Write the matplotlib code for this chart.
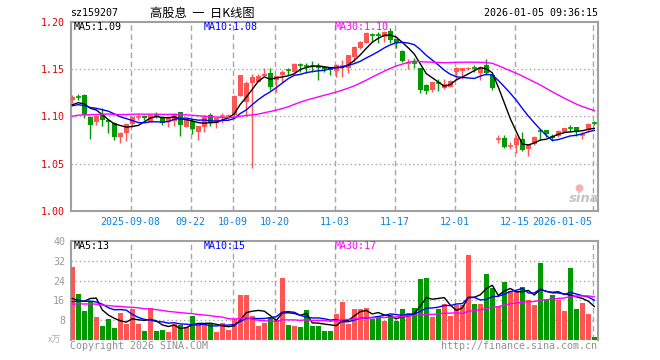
import numpy as np
import pandas as pd
import matplotlib
matplotlib.use('Agg')
import matplotlib.pyplot as plt

code = 'sz159207'
title = '高股息  一  日K线图'
stamp = '2026-01-05 09:36:15'

# daily candles, 2025-08-25 .. 2026-01-05 (88 sessions)
opens = [1.1172, 1.1205, 1.1224, 1.0996, 1.0936, 1.1017, 1.0960, 1.0932, 1.0778, 1.0826,
         1.0918, 1.0988, 1.1003, 1.0943, 1.1009, 1.0996, 1.0943, 1.0950, 1.1045, 1.0890,
         1.0950, 1.0837, 1.0890, 1.1013, 1.0932, 1.0994, 1.0998, 1.1013, 1.1217, 1.1147,
         1.1354, 1.1365, 1.1424, 1.1453, 1.1380, 1.1435, 1.1490, 1.1465, 1.1543, 1.1536,
         1.1537, 1.1534, 1.1515, 1.1513, 1.1480, 1.1530, 1.1510, 1.1628, 1.1717, 1.1775,
         1.1860, 1.1860, 1.1835, 1.1895, 1.1812, 1.1689, 1.1563, 1.1569, 1.1506, 1.1330,
         1.1277, 1.1350, 1.1295, 1.1312, 1.1470, 1.1477, 1.1495, 1.1515, 1.1460, 1.1540,
         1.1435, 1.0755, 1.0767, 1.0684, 1.0697, 1.0757, 1.0650, 1.0704, 1.0846, 1.0855,
         1.0795, 1.0790, 1.0837, 1.0885, 1.0883, 1.0798, 1.0855, 1.0928]
highs = [1.1220, 1.1235, 1.1235, 1.0998, 1.1010, 1.1084, 1.0965, 1.0937, 1.0830, 1.0926,
         1.1000, 1.1027, 1.1010, 1.1027, 1.1042, 1.1003, 1.0996, 1.1035, 1.1048, 1.0975,
         1.0958, 1.0900, 1.1013, 1.1038, 1.0985, 1.1038, 1.1027, 1.1220, 1.1440, 1.1370,
         1.1445, 1.1445, 1.1506, 1.1506, 1.1430, 1.1490, 1.1506, 1.1558, 1.1560, 1.1559,
         1.1583, 1.1565, 1.1535, 1.1520, 1.1548, 1.1594, 1.1650, 1.1740, 1.1792, 1.1890,
         1.1880, 1.1892, 1.1895, 1.1930, 1.1815, 1.1700, 1.1600, 1.1610, 1.1510, 1.1340,
         1.1365, 1.1390, 1.1390, 1.1380, 1.1515, 1.1512, 1.1520, 1.1540, 1.1530, 1.1600,
         1.1440, 1.0800, 1.0800, 1.0730, 1.0800, 1.0837, 1.0712, 1.0790, 1.0855, 1.0860,
         1.0810, 1.0850, 1.0878, 1.0905, 1.0888, 1.0830, 1.0925, 1.0945]
lows = [1.1137, 1.1172, 1.0985, 1.0757, 1.0908, 1.0900, 1.0826, 1.0750, 1.0721, 1.0734,
        1.0887, 1.0965, 1.0965, 1.0937, 1.0978, 1.0903, 1.0884, 1.0897, 1.0792, 1.0885,
        1.0810, 1.0750, 1.0837, 1.0897, 1.0875, 1.0932, 1.0975, 1.1005, 1.1210, 1.1000,
        1.0457, 1.1360, 1.1420, 1.1277, 1.1260, 1.1365, 1.1435, 1.1460, 1.1470, 1.1453,
        1.1470, 1.1383, 1.1465, 1.1435, 1.1410, 1.1411, 1.1453, 1.1576, 1.1710, 1.1770,
        1.1787, 1.1770, 1.1780, 1.1775, 1.1720, 1.1576, 1.1500, 1.1506, 1.1245, 1.1230,
        1.1255, 1.1270, 1.1290, 1.1305, 1.1390, 1.1390, 1.1490, 1.1470, 1.1383, 1.1440,
        1.1277, 1.0715, 1.0665, 1.0650, 1.0610, 1.0630, 1.0580, 1.0700, 1.0745, 1.0783,
        1.0740, 1.0785, 1.0832, 1.0830, 1.0790, 1.0755, 1.0830, 1.0905]
closes = [1.1206, 1.1200, 1.1008, 1.0908, 1.1006, 1.0960, 1.0937, 1.0784, 1.0826, 1.0918,
          1.0996, 1.0992, 1.0979, 1.1017, 1.1005, 1.0932, 1.0990, 1.1024, 1.0908, 1.0968,
          1.0865, 1.0897, 1.0996, 1.0936, 1.0979, 1.0998, 1.1002, 1.1214, 1.1435, 1.1354,
          1.1418, 1.1424, 1.1445, 1.1312, 1.1424, 1.1470, 1.1486, 1.1548, 1.1539, 1.1532,
          1.1533, 1.1506, 1.1500, 1.1490, 1.1540, 1.1534, 1.1646, 1.1734, 1.1787, 1.1882,
          1.1856, 1.1856, 1.1892, 1.1800, 1.1770, 1.1580, 1.1567, 1.1565, 1.1277, 1.1262,
          1.1358, 1.1346, 1.1337, 1.1372, 1.1506, 1.1506, 1.1513, 1.1511, 1.1523, 1.1453,
          1.1295, 1.0759, 1.0679, 1.0688, 1.0767, 1.0644, 1.0707, 1.0784, 1.0842, 1.0810,
          1.0770, 1.0844, 1.0872, 1.0881, 1.0837, 1.0802, 1.0918, 1.0924]
volumes = [29.5, 18.5, 11.7, 15.7, 9.3, 5.7, 8.5, 4.9, 10.9, 6.5,
           12.4, 6.5, 3.7, 12.9, 3.7, 4.1, 3.3, 6.5, 6.1, 5.5,
           9.7, 6.1, 6.5, 6.5, 3.3, 6.9, 4.1, 8.4, 18.1, 18.1,
           9.7, 5.7, 6.9, 9.3, 8.1, 24.9, 6.1, 5.7, 5.3, 12.1,
           5.7, 5.7, 3.7, 3.9, 10.5, 15.5, 6.5, 12.5, 12.5, 12.9,
           8.5, 9.3, 7.7, 10.1, 7.7, 12.5, 10.9, 12.9, 24.5, 24.9,
           9.3, 12.5, 14.5, 9.7, 14.1, 14.1, 34.1, 14.5, 14.5, 26.5,
           20.9, 13.7, 23.3, 19.7, 19.7, 21.3, 16.1, 14.1, 30.9, 16.1,
           18.1, 16.1, 11.7, 28.9, 12.5, 14.9, 10.5, 1.3]

# sessions before the window (not drawn, only feed the moving averages; estimated)
prior_close = [1.086, 1.090, 1.088, 1.092, 1.087, 1.089, 1.091, 1.088, 1.090, 1.089,
               1.097, 1.101, 1.099, 1.102, 1.100, 1.098, 1.101, 1.103, 1.099, 1.100,
               1.108, 1.112, 1.110, 1.109, 1.111, 1.109, 1.107, 1.114, 1.110]
prior_vol = [12.5, 15.0, 14.2, 13.0, 16.1, 14.8, 12.2, 13.5, 15.3, 14.0,
             13.1, 14.6, 15.2, 12.8, 13.9, 14.4, 13.3, 14.1, 12.7, 14.9,
             15.8, 13.2, 14.6, 12.9, 14.5, 22.5, 13.2, 10.2, 8.6]

tick_pos = [10, 20, 27, 34, 44, 54, 64, 74, 87]
tick_labels = ['2025-09-08', '09-22', '10-09', '10-20', '11-03', '11-17', '12-01', '12-15', '2026-01-05']
price_ticks = [1.00, 1.05, 1.10, 1.15, 1.20]
vol_ticks = [8, 16, 24, 32, 40]
ma_labels = ['MA5:1.09', 'MA10:1.08', 'MA30:1.10']
vol_ma_labels = ['MA5:13', 'MA10:15', 'MA30:17']

RED = '#ff5555'
GREEN = '#009a00'
MA_COLORS = ['black', '#0000ff', '#ff00ff']
GRID = '#a8a8a8'
MONO = 'DejaVu Sans Mono'

W, H = 660, 360
fig = plt.figure(figsize=(W / 100, H / 100), dpi=100)


def fx(x):
    return x / W


def fy(y):
    return 1 - y / H


ax = fig.add_axes([fx(70.7), fy(211), fx(597.7) - fx(70.7), fy(21.5) - fy(211)])
axv = fig.add_axes([fx(70.7), fy(340.3), fx(597.7) - fx(70.7), fy(240.7) - fy(340.3)])

n = len(closes)
x = np.arange(n)
o = np.array(opens)
c = np.array(closes)
h = np.array(highs)
l = np.array(lows)
up = c >= o
cols = np.where(up, RED, GREEN)

# candles
ax.vlines(x, l, h, colors=cols, lw=1, zorder=3)
body = np.abs(c - o)
thin = body < 0.001
ax.bar(x[~thin], body[~thin], bottom=np.minimum(o, c)[~thin], width=0.8,
       color=cols[~thin], lw=0, zorder=4)
ax.hlines(c[thin], x[thin] - 0.4, x[thin] + 0.4, colors=cols[thin], lw=1.2, zorder=4)

# moving averages
c_all = pd.Series(prior_close + closes)
v_all = pd.Series(prior_vol + volumes)
k = len(prior_close)
for win, col in zip([5, 10, 30], MA_COLORS):
    ax.plot(x, c_all.rolling(win).mean().values[k:], color=col, lw=1, zorder=5)
    axv.plot(x, v_all.rolling(win).mean().values[k:], color=col, lw=1, zorder=5)

axv.bar(x, volumes, width=0.8, color=cols, lw=0, zorder=3)

ax.set_xlim(-0.27, 87.57)
axv.set_xlim(-0.27, 87.57)
ax.set_ylim(1.00, 1.20)
axv.set_ylim(0, 40)

gx = np.array(tick_pos) - 0.27
for a in (ax, axv):
    for g in gx:
        a.axvline(g, color=GRID, lw=1, ls=(0, (4, 2.5)), zorder=1)
    for s in ['left', 'right', 'top', 'bottom']:
        a.spines[s].set_color('#a0a0a0')
        a.spines[s].set_linewidth(1.5)
axv.spines['bottom'].set_visible(False)

for p in price_ticks[1:-1]:
    ax.axhline(p, color=GRID, lw=1, ls=(0, (1, 2)), zorder=1)
for v in vol_ticks[:-1]:
    axv.axhline(v, color=GRID, lw=1, ls=(0, (1, 2)), zorder=1)

ax.set_yticks(price_ticks)
ax.set_yticklabels(['%.2f' % p for p in price_ticks], color='#e00000', family=MONO, fontsize=7.2)
ax.set_xticks(gx)
ax.set_xticklabels(tick_labels, color='#0a82dc', family=MONO, fontsize=7.2)
ax.get_xticklabels()[-1].set_ha('right')
ax.tick_params(length=0, pad=4)

axv.set_yticks(vol_ticks)
axv.set_yticklabels([str(v) for v in vol_ticks], color='#999999', family=MONO, fontsize=7.2)
axv.set_xticks([])
axv.tick_params(length=0, pad=4)

# labels
fig.text(fx(70), fy(13.5), code, family=MONO, fontsize=7.2, va='center')
fig.text(fx(150), fy(13), title, family=['Noto Sans CJK SC', 'DejaVu Sans'], fontsize=8.8, va='center')
fig.text(fx(597.5), fy(13.5), stamp, family=MONO, fontsize=7.2, va='center', ha='right')
for lab, col, px in zip(ma_labels, MA_COLORS, [74, 204, 335]):
    fig.text(fx(px), fy(26.5), lab, color=col, family=MONO, fontsize=7.2, va='center')
for lab, col, px in zip(vol_ma_labels, MA_COLORS, [74, 204, 335]):
    fig.text(fx(px), fy(246), lab, color=col, family=MONO, fontsize=7.2, va='center')
fig.text(fx(48), fy(340), 'x万', color='#b0b0b0', family=['Noto Sans CJK SC', 'DejaVu Sans'],
         fontsize=6.5, va='center')
fig.text(fx(70), fy(346), 'Copyright 2026 SINA.COM', color='#909090', family=MONO, fontsize=7.2, va='center')
fig.text(fx(597.5), fy(346), 'http://finance.sina.com.cn', color='#909090', family=MONO, fontsize=7.2,
         va='center', ha='right')

# watermark
fig.text(fx(600), fy(199), 'sina', color='#c4c4c4', fontsize=9.5, fontweight='bold', style='italic',
         ha='right', va='center')
fig.text(fx(579), fy(188), '●', color='#f4b0b0', fontsize=7.5, ha='center', va='center')

fig.savefig('out.png', dpi=100)
